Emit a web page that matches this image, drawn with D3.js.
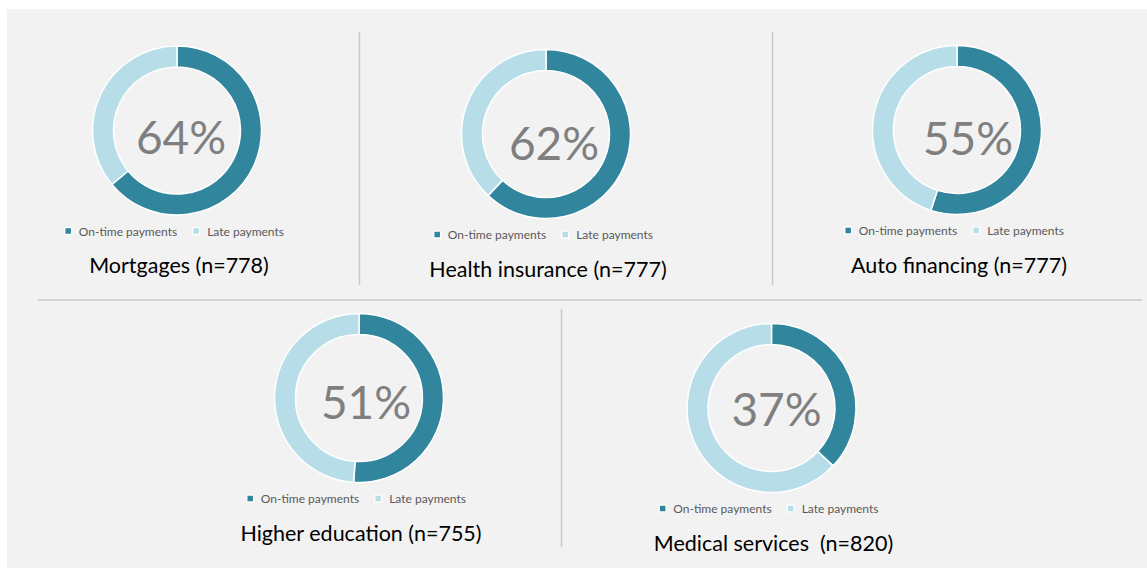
<!DOCTYPE html>
<html>
<head>
<meta charset="utf-8">
<script src="https://cdn.jsdelivr.net/npm/d3@7"></script>
<style>
  html, body { margin: 0; padding: 0; background: #ffffff; }
  svg { display: block; }
  text { font-family: Lato, "Open Sans", sans-serif; }
</style>
</head>
<body>
<svg id="chart" width="1147" height="568"></svg>
<script>
// ---- Data ----
const categories = ["Mortgages (n=778)", "Health insurance (n=777)", "Auto financing (n=777)", "Higher education (n=755)", "Medical services  (n=820)"];
const onTimePct = [64, 62, 55, 51, 37];
const latePct = [36, 38, 45, 49, 63];
const seriesNames = ["On-time payments", "Late payments"];
const percentLabels = ["64%", "62%", "55%", "51%", "37%"];

// ---- Layout (positions only) ----
const cells = [
  { cx: 177,   cy: 130.5, ldx: 4,  ldy: 6 },
  { cx: 546,   cy: 134,   ldx: 8,  ldy: 8 },
  { cx: 957,   cy: 130,   ldx: 11, ldy: 7 },
  { cx: 359,   cy: 398,   ldx: 7,  ldy: 3 },
  { cx: 771.5, cy: 408,   ldx: 5,  ldy: 0 }
];
const colors = ["#31859C", "#B7DEE8"];
const outerR = 84.5, innerR = 63.5;

const svg = d3.select("#chart");

// panel background
svg.append("rect").attr("x", 7).attr("y", 9).attr("width", 1140).attr("height", 559).attr("fill", "#F2F2F2");

// dividers
const divColor = "#C9C9C9";
svg.append("line").attr("x1", 38).attr("x2", 1142).attr("y1", 300).attr("y2", 300).attr("stroke", divColor).attr("stroke-width", 1.5);
svg.append("line").attr("x1", 359.5).attr("x2", 359.5).attr("y1", 32).attr("y2", 285).attr("stroke", divColor).attr("stroke-width", 1.5);
svg.append("line").attr("x1", 772.5).attr("x2", 772.5).attr("y1", 32).attr("y2", 285).attr("stroke", divColor).attr("stroke-width", 1.5);
svg.append("line").attr("x1", 561.5).attr("x2", 561.5).attr("y1", 309).attr("y2", 547).attr("stroke", divColor).attr("stroke-width", 1.5);

const pie = d3.pie().sort(null).value(d => d.value);
const arc = d3.arc().innerRadius(innerR).outerRadius(outerR);
const color = d3.scaleOrdinal().domain(seriesNames).range(colors);

categories.forEach((cat, i) => {
  const c = cells[i];
  const g = svg.append("g").attr("transform", `translate(${c.cx},${c.cy})`);
  const data = [
    { name: seriesNames[0], value: onTimePct[i] },
    { name: seriesNames[1], value: latePct[i] }
  ];
  g.selectAll("path").data(pie(data)).join("path")
    .attr("d", arc)
    .attr("fill", d => color(d.data.name))
    .attr("stroke", "#ffffff")
    .attr("stroke-width", 1.5);

  g.append("text")
    .attr("x", c.ldx).attr("y", c.ldy)
    .attr("text-anchor", "middle")
    .attr("dominant-baseline", "central")
    .attr("font-size", 46)
    .attr("fill", "#7F7F7F")
    .text(percentLabels[i]);

  // legend
  const lg = svg.append("g").attr("transform", `translate(${c.cx},${c.cy + 100.5})`);
  const items = [
    { name: seriesNames[0], mx: -108.8, tx: -98.2 },
    { name: seriesNames[1], mx: 19.2, tx: 30.2 }
  ];
  items.forEach(it => {
    lg.append("rect").attr("x", it.mx - 4).attr("y", -4).attr("width", 8).attr("height", 8).attr("fill", "#ffffff");
    lg.append("rect").attr("x", it.mx - 2.75).attr("y", -2.75).attr("width", 5.5).attr("height", 5.5).attr("fill", color(it.name));
    lg.append("text").attr("x", it.tx).attr("y", 0)
      .attr("dominant-baseline", "central")
      .attr("font-size", 12)
      .attr("fill", "#595959")
      .text(it.name);
  });

  // title
  svg.append("text")
    .attr("x", c.cx + 2).attr("y", c.cy + 142.5)
    .attr("text-anchor", "middle")
    .attr("font-size", 21.5)
    .attr("fill", "#000000")
    .style("white-space", "pre")
    .text(cat);
});
</script>
</body>
</html>
